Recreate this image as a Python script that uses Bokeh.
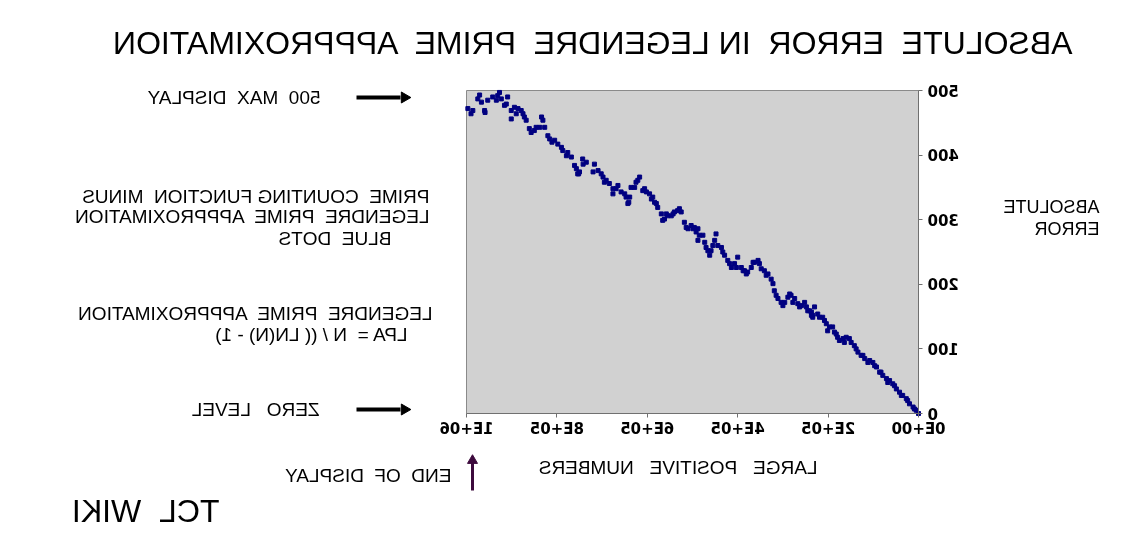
from bokeh.plotting import figure
from bokeh.models import Range1d, FixedTicker, LinearAxis, ColumnDataSource
from bokeh.core.properties import value
from bokeh.embed import file_html
from bokeh.resources import INLINE

# ---- data ----
n_thousands = [
    997, 986, 975, 967, 960, 953, 942, 931, 923, 912, 909, 901, 901, 894, 886, 875, 868, 861, 850, 838,
    831, 827, 816, 805, 798, 787, 779, 768, 761, 750, 743,
    752, 735, 717, 709, 698, 691, 684, 676, 676, 669, 658, 647, 643, 639, 636, 628, 621, 617, 610, 602,
    595, 588, 584, 577, 569, 562, 555, 547, 540, 533, 525, 518, 510, 503, 496, 488,
    492, 485, 477, 473, 466, 462, 455, 448, 444, 436, 429, 422, 414, 407, 400, 392, 385, 378, 370, 363,
    355, 348, 341, 333, 326, 319, 311, 304, 296, 289, 282, 274, 267, 259, 252, 241, 234,
    245, 237, 230, 219, 212, 204, 197, 190, 182, 175, 167, 160, 153, 142, 134, 127, 119, 112, 101, 93,
    86, 79, 71, 64, 57, 49, 42, 35, 27, 20, 12, 5, 0,
    990, 971, 959, 934, 927, 916, 890, 879, 872, 857, 846, 834, 820, 811, 790, 776, 757, 754,
    742, 720, 702, 695, 665, 650, 641, 625, 606, 591, 580, 566, 558, 543, 529, 514, 499,
    488, 470, 459, 451, 433, 418, 403, 388, 381, 366, 352, 337, 322, 315, 300, 285, 278, 263, 248, 237,
    234, 223, 208, 201, 186, 179, 164, 149, 138, 123, 108, 97, 83, 68, 53, 38, 24, 9,
]
abs_error = [
    472, 469, 487, 482, 469, 485, 490, 492, 487, 479, 490, 469, 456, 474, 472, 464, 454, 441, 438, 443,
    454, 443, 425, 423, 417, 407, 399, 397, 384, 374, 394,
    371, 389, 386, 376, 366, 361, 356, 348, 340, 348, 343, 335, 325, 335, 350, 350, 361, 366, 345, 343,
    340, 335, 327, 319, 309, 301, 306, 306, 312, 314, 312, 296, 286, 291, 288, 268,
    281, 276, 276, 265, 252, 245, 260, 278, 260, 257, 245, 237, 226, 232, 242, 226, 221, 219, 226, 234,
    237, 224, 221, 216, 208, 190, 178, 172, 172, 180, 183, 178, 170, 167, 172, 159, 152,
    159, 152, 165, 149, 149, 139, 134, 134, 123, 113, 116, 118, 116, 105, 95, 90, 85, 79, 79, 72,
    64, 59, 54, 51, 46, 38, 33, 28, 23, 15, 10, 5, 0,
    464, 493, 466, 485, 497, 477, 464, 469, 459, 435, 443, 459, 430, 420, 412, 404, 379, 371,
    386, 374, 371, 358, 353, 340, 327, 358, 348, 332, 325, 299, 309, 309, 317, 288, 286,
    286, 257, 252, 268, 250, 232, 226, 221, 216, 234, 232, 214, 201, 183, 167, 185, 172, 165, 165, 157,
    149, 154, 144, 128, 126, 118, 110, 110, 100, 90, 82, 74, 64, 48, 43, 28, 20, 7,
]
x_ticks = [0, 200000, 400000, 600000, 800000, 1000000]
x_tick_labels = ["0E+00", "2E+05", "4E+05", "6E+05", "8E+05", "1E+06"]
y_ticks = [0, 100, 200, 300, 400, 500]
y_tick_labels = ["0", "100", "200", "300", "400", "500"]
XMAX, YMAX = 1000000, 500

# ---- layout: the whole figure is mirrored left-right by CSS ----
W, H = 1124, 535
# plot area in (unmirrored) figure pixels
PL, PR, PT, PB = W - 919, W - 467, 90, 413
XPX = XMAX / (PR - PL)
YPX = YMAX / (PB - PT)


def dx(page_x):
    return ((W - page_x) - PL) * XPX


def dy(page_y):
    return (PB - page_y) * YPX


p = figure(width=W, height=H, output_backend="svg", toolbar_location=None,
           x_range=Range1d(-PL * XPX, (W - PL) * XPX),
           y_range=Range1d((PB - H) * YPX, PB * YPX),
           x_axis_location=None, y_axis_location=None,
           min_border=0, min_border_left=0, min_border_right=0,
           min_border_top=0, min_border_bottom=0)
p.stylesheets = [":host { transform: scaleX(-1); }"]
p.background_fill_color = "white"
p.border_fill_color = "white"
p.outline_line_color = None
p.xgrid.visible = False
p.ygrid.visible = False

# plot area
p.quad(left=[0], right=[XMAX], bottom=[0], top=[YMAX],
       fill_color="#d1d1d1", line_color="#8a8a8a", line_width=1)

xaxis = LinearAxis(fixed_location=0, bounds=(0, XMAX), ticker=FixedTicker(ticks=x_ticks))
xaxis.major_label_overrides = {t: l for t, l in zip(x_ticks, x_tick_labels)}
xaxis.major_label_standoff = 2
yaxis = LinearAxis(fixed_location=0, bounds=(0, YMAX), ticker=FixedTicker(ticks=y_ticks))
yaxis.major_label_overrides = {t: l for t, l in zip(y_ticks, y_tick_labels)}
yaxis.major_label_standoff = 5
for ax in (xaxis, yaxis):
    ax.axis_line_color = "#707070"
    ax.major_tick_line_color = "#707070"
    ax.minor_tick_line_color = None
    ax.major_tick_in = 0
    ax.major_tick_out = 4
    ax.major_label_text_font = "DejaVu Sans"
    ax.major_label_text_font_style = "bold"
    ax.major_label_text_font_size = "15px"
    ax.major_label_text_color = "black"
p.add_layout(xaxis, "below")
p.add_layout(yaxis, "left")

src = ColumnDataSource(data=dict(x=[n * 1000 for n in n_thousands], y=abs_error))
p.scatter("x", "y", source=src, marker="square", size=4, color="#000080")

FONT = "Liberation Sans"
S = "\u00a0 "  # a wide (double) gap


def add_text(text, page_right, page_y, size="19px"):
    p.text(x=[dx(page_right)], y=[dy(page_y)], text=[text], text_align="left",
           text_baseline="middle", text_font=value(FONT), text_font_size=size,
           text_color="black")


add_text(f"ABSOLUTE{S}ERROR{S}IN LEGENDRE{S}PRIME{S}APPPROXIMATION", 1073, 42, "32px")
add_text(f"500{S}MAX{S}DISPLAY", 321, 97)
add_text(f"PRIME{S}COUNTING FUNCTION{S}MINUS", 430, 196)
add_text(f"LEGENDRE{S}PRIME{S}APPPROXIMATION", 430, 216)
add_text(f"BLUE{S}DOTS", 392, 238)
add_text(f"LEGENDRE{S}PRIME{S}APPPROXIMATION", 433, 313)
add_text(f"LPA ={S}N / (( LN(N) - 1)", 408, 334)
add_text(f"ZERO{S}\u00a0LEVEL", 320, 409)
add_text("ABSOLUTE", 1100, 206, "18px")
add_text("ERROR", 1100, 228, "18px")
add_text(f"LARGE{S}\u00a0POSITIVE{S}\u00a0NUMBERS", 818, 467)
add_text(f"END{S}OF{S}DISPLAY", 452, 475)
add_text(f"TCL{S}WIKI", 220, 510, "32px")

# arrows: shaft + triangular head
for py in (97, 409):
    p.segment(x0=[dx(357)], y0=[dy(py)], x1=[dx(401)], y1=[dy(py)],
              line_color="black", line_width=4)
    p.scatter(x=[dx(405)], y=[dy(py)], marker="triangle", size=11, angle=1.5708,
              fill_color="black", line_color="black")
p.segment(x0=[dx(473)], y0=[dy(490)], x1=[dx(473)], y1=[dy(462)],
          line_color="#3d0a3d", line_width=3)
p.scatter(x=[dx(473)], y=[dy(460)], marker="triangle", size=10,
          fill_color="#3d0a3d", line_color="#3d0a3d")

open("out.html", "w").write(file_html(p, INLINE))
